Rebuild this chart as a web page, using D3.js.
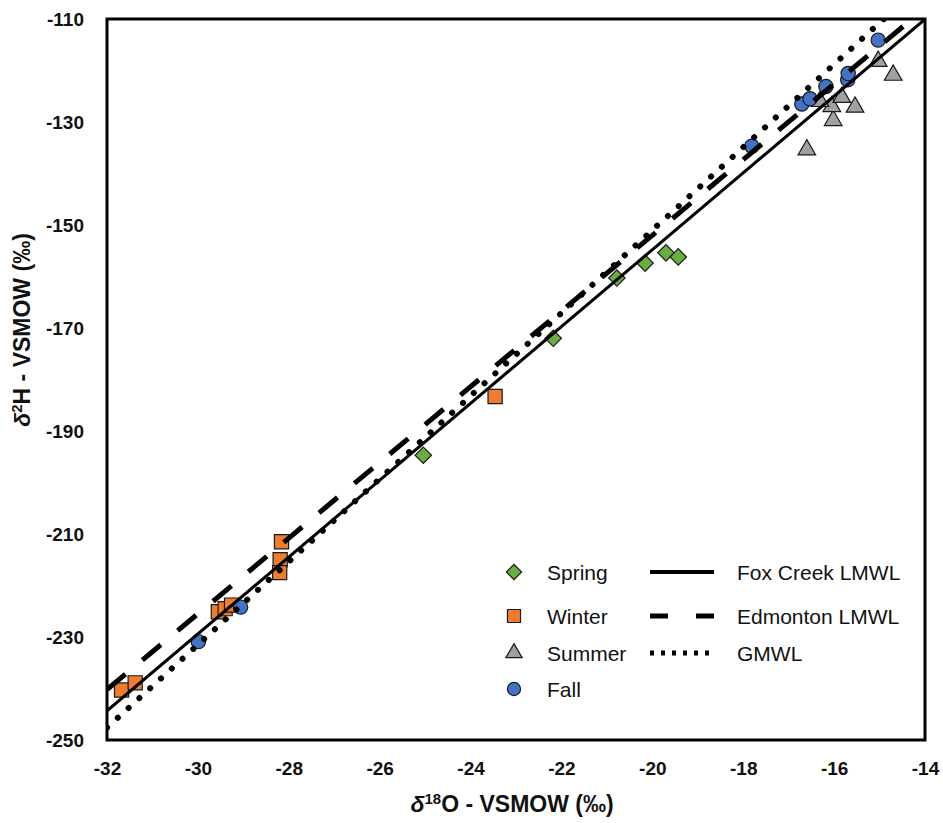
<!DOCTYPE html>
<html>
<head>
<meta charset="utf-8">
<script src="https://cdn.jsdelivr.net/npm/d3@7"></script>
<style>
  body { margin: 0; background: #fff; }
  svg { display: block; }
  text { font-family: "Liberation Sans", Arial, sans-serif; fill: #111; }
</style>
</head>
<body>
<div id="chart"></div>
<script>
// Spring samples
const springX = [-25.04, -22.18, -20.78, -20.16, -19.70, -19.43];
const springY = [-194.7, -172.0, -160.3, -157.4, -155.4, -156.2];

// Winter samples
const winterX = [-31.68, -31.38, -29.55, -29.40, -29.26, -28.19, -28.16, -28.20, -23.46];
const winterY = [-240.3, -238.9, -225.1, -224.5, -223.8, -215.0, -211.5, -217.5, -183.3];

// Summer samples
const summerX = [-16.60, -16.02, -16.05, -16.31, -15.83, -15.54, -15.03, -14.70];
const summerY = [-135.4, -129.7, -127.0, -126.0, -125.2, -127.1, -118.2, -120.9];

// Fall samples
const fallX = [-29.99, -29.06, -17.81, -16.71, -16.53, -16.18, -15.70, -15.69, -15.03];
const fallY = [-230.9, -224.2, -134.7, -126.5, -125.5, -123.1, -121.8, -120.6, -114.1];

// meteoric water lines: d2H = slope * d18O + intercept
const lineNames = ["Fox Creek LMWL", "Edmonton LMWL", "GMWL"];
const lineSlopes = [7.46, 7.35, 8.05];
const lineIntercepts = [-5.6, -5.0, 10.0];

const xTicks = [-32, -30, -28, -26, -24, -22, -20, -18, -16, -14];
const yTicks = [-110, -130, -150, -170, -190, -210, -230, -250];

const width = 943, height = 823;
const margin = { left: 107, right: 18, top: 19, bottom: 83 };

const svg = d3.select("#chart")
  .append("svg")
  .attr("width", width)
  .attr("height", height);

const x = d3.scaleLinear().domain([-32, -14]).range([margin.left, width - margin.right]);
const y = d3.scaleLinear().domain([-250, -110]).range([height - margin.bottom, margin.top]);

svg.append("clipPath").attr("id", "plot-clip")
  .append("rect")
  .attr("x", x(-32)).attr("y", y(-110))
  .attr("width", x(-14) - x(-32)).attr("height", y(-250) - y(-110));

// axes (labels only, no tick marks), plain hyphen minus like the original
const fmt = d => String(d);

const xAxis = svg.append("g")
  .attr("transform", `translate(0,${y(-250)})`)
  .call(d3.axisBottom(x).tickValues(xTicks).tickSize(0).tickPadding(22).tickFormat(fmt));
xAxis.select(".domain").remove();
xAxis.selectAll("text").style("font-size", "19px").style("font-weight", "bold").style("fill", "#111");

const yAxis = svg.append("g")
  .attr("transform", `translate(${x(-32) - 23},0)`)
  .call(d3.axisLeft(y).tickValues(yTicks).tickSize(0).tickPadding(0).tickFormat(fmt));
yAxis.select(".domain").remove();
yAxis.selectAll("text").style("font-size", "19px").style("font-weight", "bold").style("fill", "#111");

// markers
const seasons = [
  { name: "Spring", xs: springX, ys: springY, color: "#6aae3f", shape: "diamond" },
  { name: "Winter", xs: winterX, ys: winterY, color: "#ee7d31", shape: "square" },
  { name: "Summer", xs: summerX, ys: summerY, color: "#a0a0a0", shape: "triangle" },
  { name: "Fall", xs: fallX, ys: fallY, color: "#4472c4", shape: "circle" }
];

function symbolPath(shape, scale) {
  if (shape === "diamond") return d3.symbol(d3.symbolSquare, 135 * scale)();
  if (shape === "square") return d3.symbol(d3.symbolSquare, 200 * scale)();
  if (shape === "triangle") return d3.symbol(d3.symbolTriangle, 135 * scale)();
  return d3.symbol(d3.symbolCircle, 160 * scale)();
}

const pts = svg.append("g").attr("clip-path", "url(#plot-clip)");
seasons.forEach(s => {
  pts.selectAll(null)
    .data(s.xs.map((v, i) => [v, s.ys[i]]))
    .enter()
    .append("path")
    .attr("d", symbolPath(s.shape, 1))
    .attr("transform", d => `translate(${x(d[0])},${y(d[1])})` + (s.shape === "diamond" ? " rotate(45)" : ""))
    .attr("fill", s.color)
    .attr("stroke", "#1a1a1a")
    .attr("stroke-width", 1.2);
});

// lines drawn over the markers
const lineStyles = [
  { width: 3, dash: null, cap: "butt" },
  { width: 5, dash: "24,22", cap: "butt" },
  { width: 6, dash: "0.1,14.5", cap: "round" }
];

const line = d3.line().x(d => x(d[0])).y(d => y(d[1]));
const lines = svg.append("g").attr("clip-path", "url(#plot-clip)");
lineNames.forEach((n, i) => {
  const x0 = -32, x1 = -14;
  const seg = [[x0, lineSlopes[i] * x0 + lineIntercepts[i]], [x1, lineSlopes[i] * x1 + lineIntercepts[i]]];
  lines.append("path")
    .attr("d", line(seg))
    .attr("fill", "none")
    .attr("stroke", "#000")
    .attr("stroke-width", lineStyles[i].width)
    .attr("stroke-dasharray", lineStyles[i].dash)
    .attr("stroke-linecap", lineStyles[i].cap);
});

// plot frame
svg.append("rect")
  .attr("x", x(-32)).attr("y", y(-110))
  .attr("width", x(-14) - x(-32)).attr("height", y(-250) - y(-110))
  .attr("fill", "none").attr("stroke", "#000").attr("stroke-width", 3);

// legend
const legRows = [572, 616, 653, 689];
const leg = svg.append("g");
seasons.forEach((s, i) => {
  leg.append("path")
    .attr("d", symbolPath(s.shape, 0.85))
    .attr("transform", `translate(514,${legRows[i]})` + (s.shape === "diamond" ? " rotate(45)" : ""))
    .attr("fill", s.color)
    .attr("stroke", "#1a1a1a")
    .attr("stroke-width", 1.2);
  leg.append("text")
    .attr("x", 547).attr("y", legRows[i])
    .attr("dy", "0.36em")
    .style("font-size", "21px")
    .text(s.name);
});
lineNames.forEach((n, i) => {
  leg.append("line")
    .attr("x1", 650).attr("x2", i === 2 ? 716 : 714)
    .attr("y1", legRows[i]).attr("y2", legRows[i])
    .attr("stroke", "#000")
    .attr("stroke-width", i === 0 ? 4 : 5)
    .attr("stroke-dasharray", i === 0 ? null : i === 1 ? "18,28" : "4,7");
  leg.append("text")
    .attr("x", 737).attr("y", legRows[i])
    .attr("dy", "0.36em")
    .style("font-size", "21px")
    .text(n);
});

// axis titles
const xt = svg.append("text")
  .attr("x", 512).attr("y", 812)
  .attr("text-anchor", "middle")
  .style("font-size", "23px").style("font-weight", "bold");
xt.append("tspan").style("font-style", "italic").text("δ");
xt.append("tspan").attr("dy", -8).style("font-size", "15px").text("18");
xt.append("tspan").attr("dy", 8).text("O - VSMOW (‰)");

const yt = svg.append("text")
  .attr("transform", "translate(30,330) rotate(-90)")
  .attr("text-anchor", "middle")
  .style("font-size", "23px").style("font-weight", "bold");
yt.append("tspan").style("font-style", "italic").text("δ");
yt.append("tspan").attr("dy", -8).style("font-size", "15px").text("2");
yt.append("tspan").attr("dy", 8).text("H - VSMOW (‰)");
</script>
</body>
</html>
